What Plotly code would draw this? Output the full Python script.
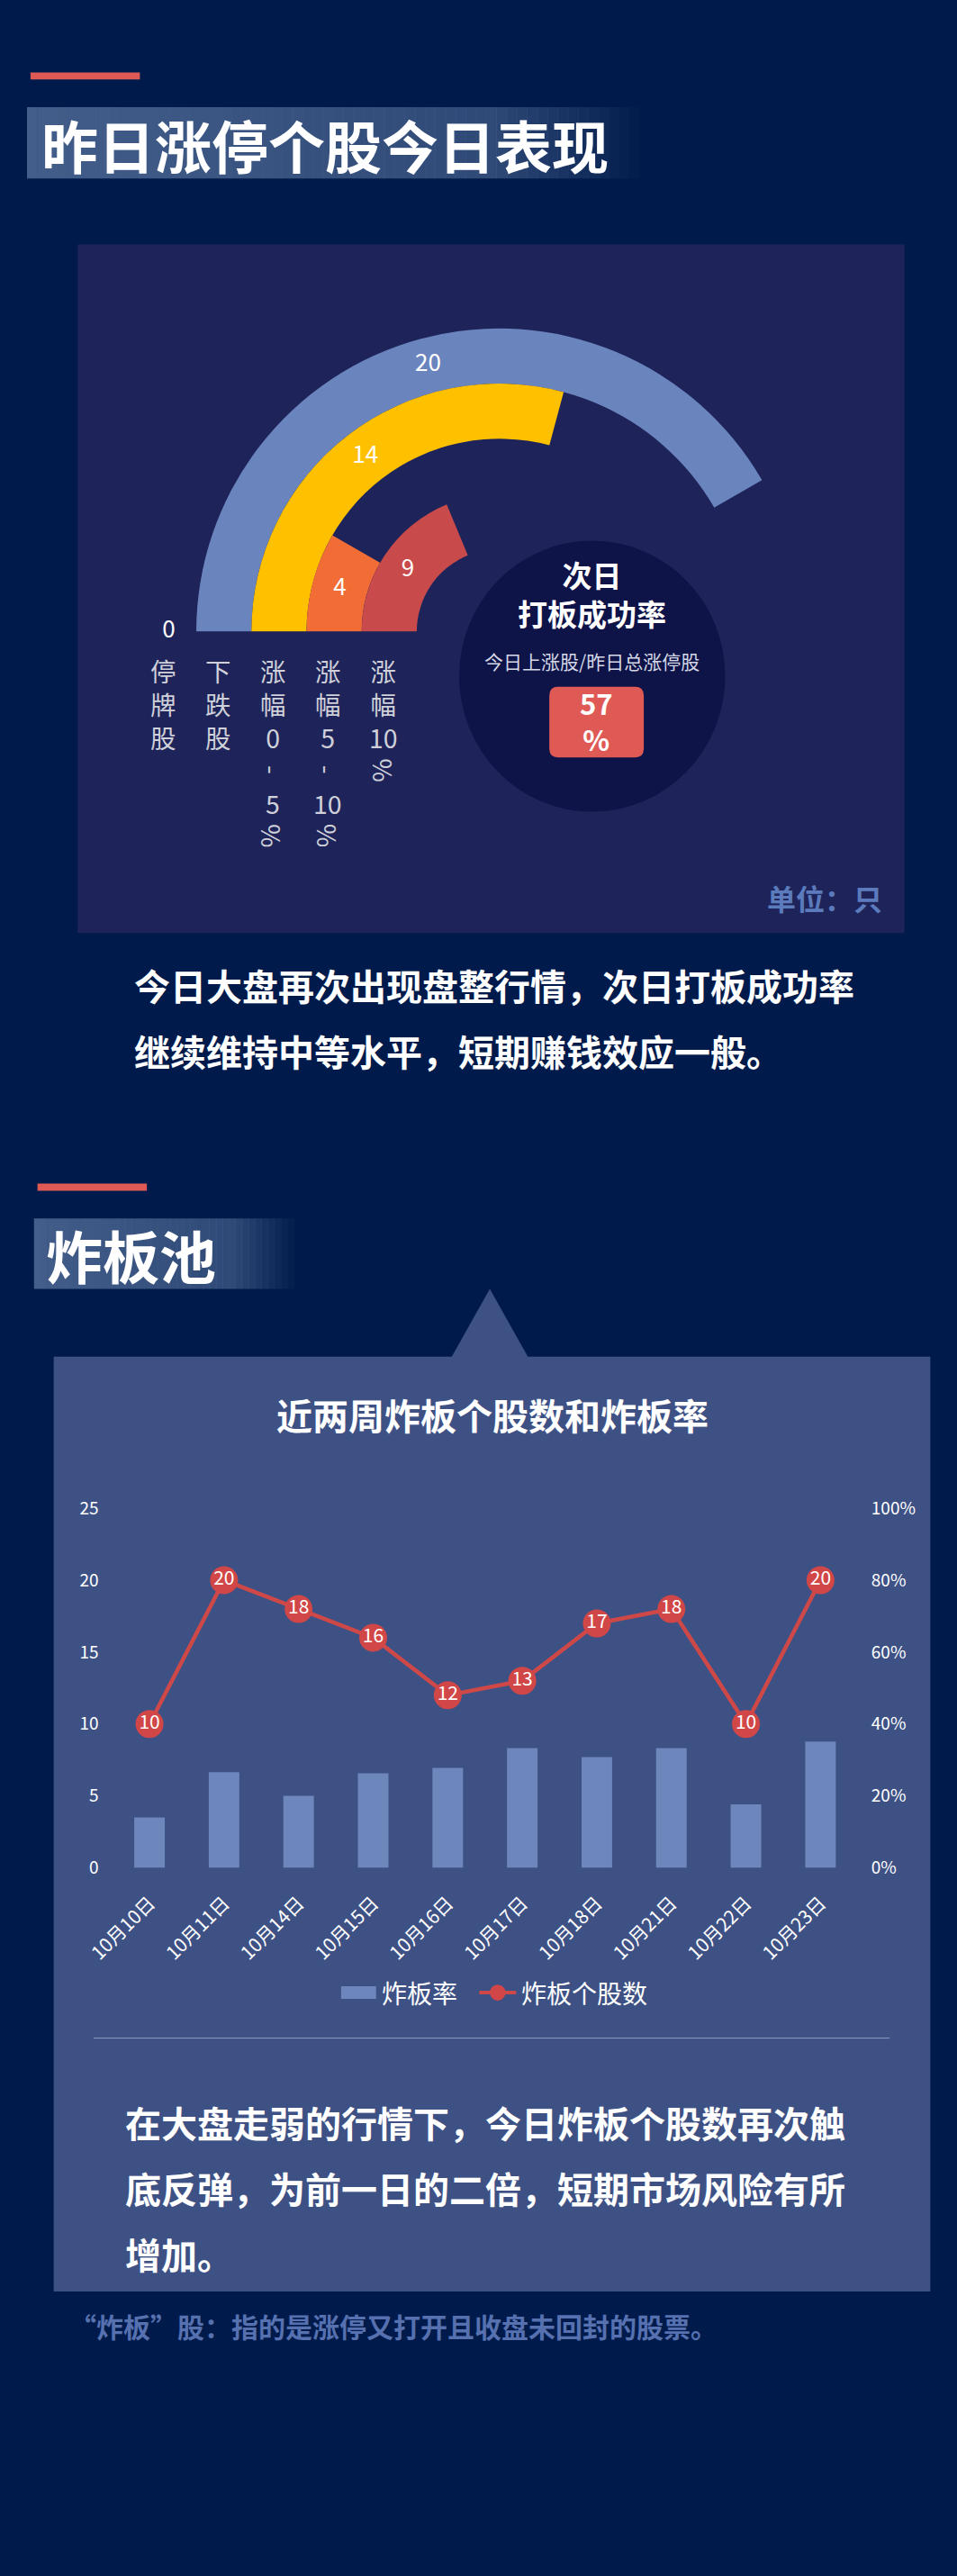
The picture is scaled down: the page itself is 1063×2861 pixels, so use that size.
import re
import plotly.graph_objects as go

W, H = 1063, 2861

# ---- data: section 1 (polar rings) ----
ring_labels = ["停牌股", "下跌股", "涨幅0-5%", "涨幅5-10%", "涨幅10%"]
ring_values = [0, 20, 14, 4, 9]
ring_colors = ["#6a84be", "#6a84be", "#ffc000", "#f26d36", "#c94a4a"]
ring_scale_max = 24          # value that fills the half circle
success_rate = 57

# ---- data: section 2 (炸板池) ----
dates = ["10月10日", "10月11日", "10月14日", "10月15日", "10月16日",
         "10月17日", "10月18日", "10月21日", "10月22日", "10月23日"]
zb_count = [10, 20, 18, 16, 12, 13, 17, 18, 10, 20]
zb_rate = [14, 26.6, 20, 26.3, 27.8, 33.3, 30.8, 33.3, 17.6, 35.1]

FONT = "Noto Sans CJK SC"
NARROW = "Liberation Sans Narrow, Noto Sans CJK SC"
BG = "#001b4b"
PANEL1 = "#1e2459"
PANEL2 = "#3e5185"
RED = "#e05a55"


def fx(x):
    return x / W


def fy(y):
    return 1 - y / H


shapes = []
annotations = []


def rect(x0, y0, x1, y1, color, layer="below"):
    shapes.append(dict(type="rect", xref="paper", yref="paper",
                       x0=fx(x0), x1=fx(x1), y0=fy(y1), y1=fy(y0),
                       fillcolor=color, line_width=0, layer=layer))


def text(x, y, s, size, color="white", xanchor="left", angle=0, family=FONT):
    annotations.append(dict(x=fx(x), y=fy(y), xref="paper", yref="paper",
                            text=s, showarrow=False, xanchor=xanchor,
                            yanchor="middle", textangle=angle,
                            font=dict(family=family, size=size, color=color)))


def band(x0, y0, x1, y1, n=60):
    # title band fading out to the right
    step = (x1 - x0) / n
    for i in range(n):
        t = i / n
        a = 1 - 0.3 * t / 0.75 if t < 0.75 else 0.7 * (1 - (t - 0.75) / 0.25)
        rect(x0 + i * step, y0, x0 + (i + 1) * step + 0.5, y1,
             "rgba(67,94,138,%.3f)" % a)


# ---------- section 1 ----------
rect(4, 66, 129, 74, RED)
band(0, 105, 700, 185)
text(14, 146, "<b>昨日涨停个股今日表现</b>", 63)

rect(58, 259, 1003, 1031, PANEL1)

cx, cy, unit = 540, 697, 63
n_rings = len(ring_labels)
inner = 1.5
ring_base = [inner + (n_rings - 1 - i) for i in range(n_rings)]
spans = [v * 180 / ring_scale_max for v in ring_values]
theta_mid = [180 - s / 2 for s in spans]
R = (inner + n_rings) * unit

fig = go.Figure()
fig.add_trace(go.Barpolar(r=[1] * n_rings, base=ring_base, theta=theta_mid,
                          width=spans, marker=dict(color=ring_colors, line_width=0),
                          hoverinfo="skip", subplot="polar"))
fig.add_trace(go.Scatterpolar(r=[b + 0.5 for b in ring_base], theta=theta_mid,
                              mode="text", text=[str(v) for v in ring_values],
                              textfont=dict(family=FONT, size=26, color="white"),
                              cliponaxis=False, hoverinfo="skip", subplot="polar"))

# vertical category labels under the baseline
line_h = 37
lab_size = line_h / 1.3
y_first = 737
for i, lab in enumerate(ring_labels):
    lx = cx - (ring_base[i] + 0.5) * unit - 7
    tokens = re.findall(r"\d+|.", lab)
    group = []
    for k, ch in enumerate(tokens + [None]):
        if ch is not None and ch not in "-%":
            group.append((k, ch))
            continue
        if group:
            ymid = y_first + line_h * (group[0][0] + group[-1][0]) / 2
            text(lx, ymid, "<br>".join(c for _, c in group), lab_size, "#cfd0da", "center")
            group = []
        if ch is not None:
            text(lx, y_first + k * line_h, ch, lab_size, "#cfd0da", "center", 90)

# success-rate circle
shapes.append(dict(type="circle", xref="paper", yref="paper",
                   x0=fx(646 - 152), x1=fx(646 + 152), y0=fy(743 + 152), y1=fy(743 - 152),
                   fillcolor="#0e1348", line_width=0, layer="below"))
text(646, 651, "<b>次日<br>打板成功率</b>", 33, xanchor="center")
text(646, 726, "今日上涨股/昨日总涨停股", 21, "#d5d8e6", "center")

bx0, by0, bx1, by1, rr = 597, 755, 705, 834, 10
path = ("M {a},{b} L {c},{b} Q {d},{b} {d},{e} L {d},{f} Q {d},{g} {c},{g} "
        "L {a},{g} Q {h},{g} {h},{f} L {h},{e} Q {h},{b} {a},{b} Z").format(
    a=fx(bx0 + rr), b=fy(by0), c=fx(bx1 - rr), d=fx(bx1), e=fy(by0 + rr),
    f=fy(by1 - rr), g=fy(by1), h=fx(bx0))
shapes.append(dict(type="path", xref="paper", yref="paper", path=path,
                   fillcolor=RED, line_width=0, layer="below"))
text(651, 793, "<b>%d<br>%%</b>" % success_rate, 31, xanchor="center")

text(980, 991, "<b>单位：只</b>", 32, "#5b7bbd", "right")

text(120, 1089, "<b>今日大盘再次出现盘整行情，次日打板成功率</b>", 40)
text(120, 1163, "<b>继续维持中等水平，短期赚钱效应一般。</b>", 40)

# ---------- section 2 ----------
rect(12, 1312, 137, 1320, RED)
band(8, 1351, 305, 1430, n=40)
text(20, 1391, "<b>炸板池</b>", 63)

shapes.append(dict(type="path", xref="paper", yref="paper",
                   path="M {},{} L {},{} L {},{} Z".format(
                       fx(485), fy(1507), fx(529), fy(1430), fx(573), fy(1507)),
                   fillcolor=PANEL2, line_width=0, layer="below"))
rect(30.5, 1506, 1032.5, 2554, PANEL2)
text(532, 1571, "<b>近两周炸板个股数和炸板率</b>", 40, xanchor="center")

fig.add_trace(go.Bar(x=dates, y=zb_rate, width=0.41, marker=dict(color="#6d86bb", line_width=0),
                     name="炸板率", xaxis="x", yaxis="y", hoverinfo="skip"))
fig.add_trace(go.Scatter(x=dates, y=zb_count, mode="lines+markers+text", name="炸板个股数",
                         text=[str(v) for v in zb_count], textposition="middle center",
                         textfont=dict(family=NARROW, size=21, color="white"),
                         line=dict(color="#cf4848", width=4.5),
                         marker=dict(color="#d14646", size=31, line_width=0),
                         xaxis="x", yaxis="y2", cliponaxis=False, hoverinfo="skip"))

# manual legend
rect(359, 2212, 399, 2226, "#6d86bb", layer="above")
text(403, 2219, "炸板率", 28)
shapes.append(dict(type="line", xref="paper", yref="paper", x0=fx(517), x1=fx(559),
                   y0=fy(2219), y1=fy(2219), line=dict(color="#cf4848", width=4)))
shapes.append(dict(type="circle", xref="paper", yref="paper", x0=fx(529), x1=fx(547),
                   y0=fy(2228), y1=fy(2210), fillcolor="#d14646", line_width=0))
text(563, 2219, "炸板个股数", 28)

shapes.append(dict(type="line", xref="paper", yref="paper", x0=fx(76), x1=fx(986),
                   y0=fy(2270), y1=fy(2270), line=dict(color="#8c9cc6", width=1),
                   layer="below"))

text(110, 2364, "<b>在大盘走弱的行情下，今日炸板个股数再次触</b>", 40)
text(110, 2438, "<b>底反弹，为前一日的二倍，短期市场风险有所</b>", 40)
text(110, 2512, "<b>增加。</b>", 40)
text(46, 2592, "<b>“炸板”股：指的是涨停又打开且收盘未回封的股票。</b>", 30, "#5670b0")

tick_font = dict(family=NARROW, size=19, color="white")
fig.update_layout(
    width=W, height=H, margin=dict(l=0, r=0, t=0, b=0),
    paper_bgcolor=BG, plot_bgcolor="rgba(0,0,0,0)",
    showlegend=False, font=dict(family=FONT),
    shapes=shapes, annotations=annotations,
    polar=dict(domain=dict(x=[fx(cx - R), fx(cx + R)], y=[fy(cy), fy(cy - R)]),
               sector=[0, 180], bgcolor="rgba(0,0,0,0)",
               radialaxis=dict(range=[0, inner + n_rings], visible=False),
               angularaxis=dict(visible=False, rotation=0, direction="counterclockwise")),
    xaxis=dict(domain=[fx(97.4), fx(949.6)], anchor="y", tickangle=-45,
               range=[-0.5, len(dates) - 0.5],
               tickfont=dict(family=NARROW, size=21, color="white"),
               showgrid=False, showline=False, zeroline=False,
               ticks="", ticklabelstandoff=22),
    yaxis=dict(domain=[fy(2079), fy(1676)], side="right", range=[0, 100], dtick=20,
               ticksuffix="%", tickfont=tick_font, showgrid=False, zeroline=False,
               ticks="", ticklabelstandoff=14),
    yaxis2=dict(overlaying="y", side="left", range=[0, 25], dtick=5,
                tickfont=tick_font, showgrid=False, zeroline=False,
                ticks="", ticklabelstandoff=14),
)

fig.write_html("out.html", config={"displayModeBar": False},
               post_script="document.body.style.margin='0';")
